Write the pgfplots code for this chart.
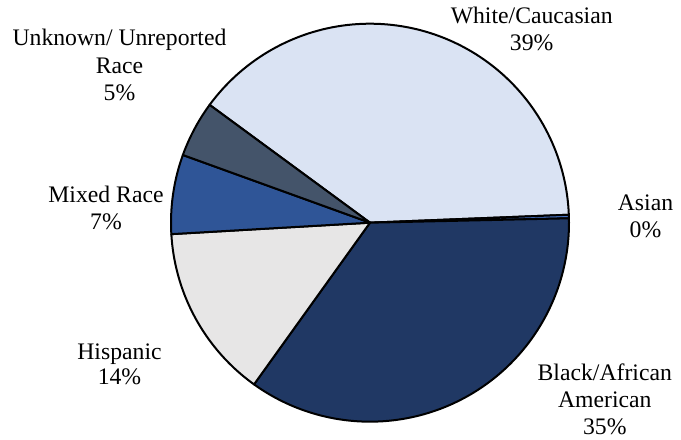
\documentclass[border=0pt]{standalone}
\usepackage{pgfplots}
\pgfplotsset{compat=1.18}
\usepackage{fontspec}
\setmainfont{Liberation Serif}
\definecolor{cWhite}{HTML}{DAE3F3}
\definecolor{cAsian}{HTML}{4472C4}
\definecolor{cBlack}{HTML}{203864}
\definecolor{cHisp}{HTML}{E7E6E6}
\definecolor{cMixed}{HTML}{2F5597}
\definecolor{cUnk}{HTML}{44546A}
\begin{document}
\begin{tikzpicture}[lbl/.style={anchor=base, inner sep=0pt, font=\fontsize{23.7bp}{27.5bp}\selectfont},
  wedge/.style={draw=black, line width=2bp, line join=round}]
% shares (percent), clockwise from the Unknown/White boundary
\def\vWhite{39.28}\def\vAsian{0.28}\def\vBlack{35.26}
\def\vHisp{14.18}\def\vMixed{6.44}\def\vUnk{4.56}
\pgfmathsetmacro\aZ{143.7}
\pgfmathsetmacro\aA{\aZ-\vWhite*3.6}
\pgfmathsetmacro\aB{\aA-\vAsian*3.6}
\pgfmathsetmacro\aC{\aB-\vBlack*3.6}
\pgfmathsetmacro\aD{\aC-\vHisp*3.6}
\pgfmathsetmacro\aE{\aD-\vMixed*3.6}
\pgfmathsetmacro\aF{\aE-\vUnk*3.6}
\def\cx{370}\def\cy{217.3}\def\R{199}
\begin{axis}[
  width=681bp, height=440bp, scale only axis,
  xmin=0, xmax=681, ymin=0, ymax=440,
  hide axis, clip=false,
]
\path (axis cs:0,0) rectangle (axis cs:681,440);
\addplot[wedge, fill=cWhite, domain=\aA:\aZ, samples=100, variable=\t]
  ({\cx+\R*cos(\t)},{\cy+\R*sin(\t)}) -- (axis cs:\cx,\cy) -- cycle;
\addplot[wedge, fill=cAsian, domain=\aB:\aA, samples=3, variable=\t]
  ({\cx+\R*cos(\t)},{\cy+\R*sin(\t)}) -- (axis cs:\cx,\cy) -- cycle;
\addplot[wedge, fill=cBlack, domain=\aC:\aB, samples=100, variable=\t]
  ({\cx+\R*cos(\t)},{\cy+\R*sin(\t)}) -- (axis cs:\cx,\cy) -- cycle;
\addplot[wedge, fill=cHisp, domain=\aD:\aC, samples=50, variable=\t]
  ({\cx+\R*cos(\t)},{\cy+\R*sin(\t)}) -- (axis cs:\cx,\cy) -- cycle;
\addplot[wedge, fill=cMixed, domain=\aE:\aD, samples=30, variable=\t]
  ({\cx+\R*cos(\t)},{\cy+\R*sin(\t)}) -- (axis cs:\cx,\cy) -- cycle;
\addplot[wedge, fill=cUnk, domain=\aF:\aE, samples=30, variable=\t]
  ({\cx+\R*cos(\t)},{\cy+\R*sin(\t)}) -- (axis cs:\cx,\cy) -- cycle;
% labels
\node[lbl] at (axis cs:531.7,416.7) {White/Caucasian};
\node[lbl] at (axis cs:531.7,389.3) {39\%};
\node[lbl] at (axis cs:645.5,229.3) {Asian};
\node[lbl] at (axis cs:645.5,202.7) {0\%};
\node[lbl] at (axis cs:604.8,59.3) {Black/African};
\node[lbl] at (axis cs:604.8,32.7) {American};
\node[lbl] at (axis cs:604.8,5) {35\%};
\node[lbl] at (axis cs:119.5,80.7) {Hispanic};
\node[lbl] at (axis cs:119.5,55) {14\%};
\node[lbl] at (axis cs:106,237.7) {Mixed Race};
\node[lbl] at (axis cs:106,210) {7\%};
\node[lbl] at (axis cs:119.5,394.3) {Unknown/ Unreported};
\node[lbl] at (axis cs:119.5,366) {Race};
\node[lbl] at (axis cs:119.5,339) {5\%};
\end{axis}
\end{tikzpicture}
\end{document}
